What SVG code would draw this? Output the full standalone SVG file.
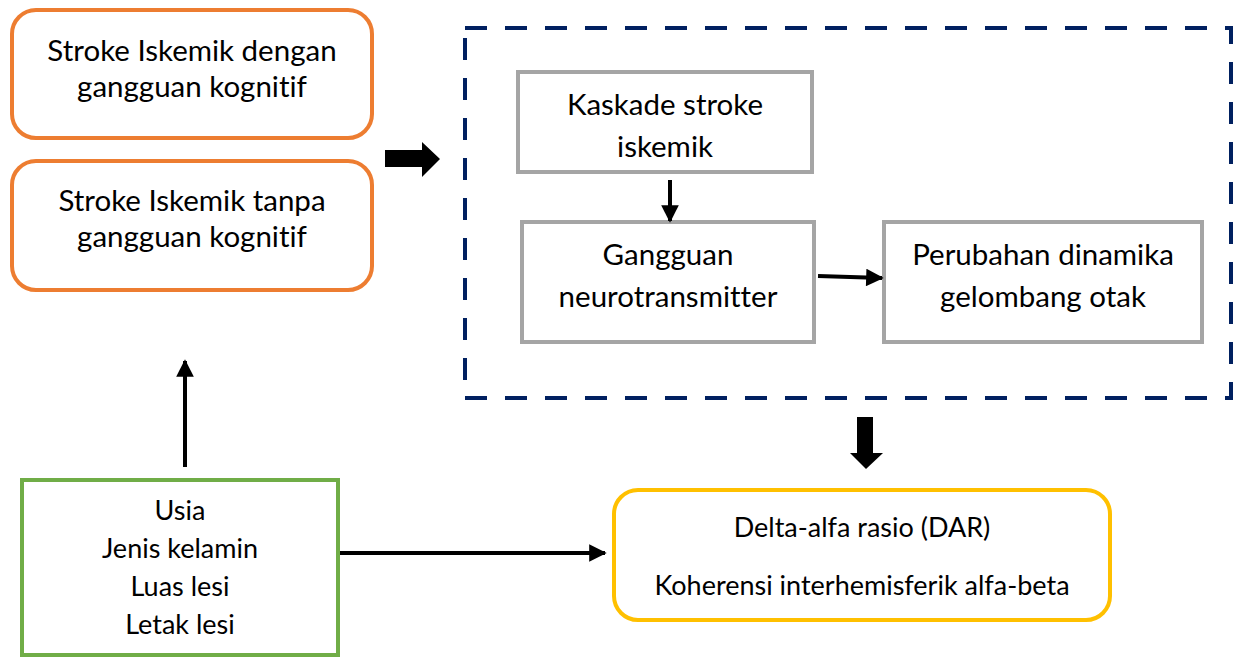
<svg xmlns="http://www.w3.org/2000/svg" width="1235" height="657" viewBox="0 0 1235 657">
<style>
text{font-family:Lato,"Open Sans","Noto Sans",sans-serif;fill:#000;text-anchor:middle;font-variant-ligatures:none;font-feature-settings:"liga" 0,"dlig" 0}
.big{font-size:29.5px}
.sm{font-size:27px}
.org{fill:#fff;stroke:#ED7D31;stroke-width:4}
.gry{fill:#fff;stroke:#A5A5A5;stroke-width:4}
.ln{stroke:#000;stroke-width:4;fill:none}
</style>
<defs>
<marker id="ah" viewBox="0 0 10 10" refX="9" refY="5" markerWidth="5" markerHeight="4.4" orient="auto" markerUnits="strokeWidth"><path d="M0,0 L10,5 L0,10 Z" fill="#000"/></marker>
</defs>
<rect width="1235" height="657" fill="#fff"/>
<g id="dashed-group"><rect x="465" y="28" width="766" height="370" fill="none" stroke="#002060" stroke-width="4" stroke-dasharray="22 18"/></g>
<g id="n-dengan"><rect class="org" x="12" y="10" width="360" height="128" rx="24"/><text class="big" x="192" y="61">Stroke Iskemik dengan</text><text class="big" x="192" y="97">gangguan kognitif</text></g>
<g id="n-tanpa"><rect class="org" x="12" y="161" width="360" height="129" rx="24"/><text class="big" x="192" y="211">Stroke Iskemik tanpa</text><text class="big" x="192" y="247">gangguan kognitif</text></g>
<g id="n-kaskade"><rect class="gry" x="518" y="72" width="294" height="100"/><text class="big" x="665" y="115">Kaskade stroke</text><text class="big" x="665" y="157">iskemik</text></g>
<g id="n-gangguan"><rect class="gry" x="522" y="222" width="292" height="120"/><text class="big" x="668" y="265">Gangguan</text><text class="big" x="668" y="307">neurotransmitter</text></g>
<g id="n-perubahan"><rect class="gry" x="884" y="222" width="318" height="120"/><text class="big" x="1043" y="265">Perubahan dinamika</text><text class="big" x="1043" y="307">gelombang otak</text></g>
<g id="n-faktor"><rect x="22" y="480" width="316" height="175" fill="#fff" stroke="#70AD47" stroke-width="4"/><text class="sm" x="180" y="520">Usia</text><text class="sm" x="180" y="558">Jenis kelamin</text><text class="sm" x="180" y="596">Luas lesi</text><text class="sm" x="180" y="634">Letak lesi</text></g>
<g id="n-eeg"><rect x="614" y="490" width="496" height="130" rx="24" fill="#fff" stroke="#FFC000" stroke-width="4"/><text class="sm" x="862" y="537">Delta-alfa rasio (DAR)</text><text class="sm" x="862" y="595">Koherensi interhemisferik alfa-beta</text></g>
<g id="connectors">
<path d="M385,150 H422 V142 L440,159 L422,177 V167 H385 Z" fill="#000"/>
<path d="M857,417 H873 V453 H883 L866,469 L850,453 H857 Z" fill="#000"/>
<line class="ln" x1="670" y1="180" x2="670" y2="221" stroke-width="3" marker-end="url(#ah)"/>
<line class="ln" x1="818" y1="276" x2="882" y2="278" stroke-width="3" marker-end="url(#ah)"/>
<line class="ln" x1="185" y1="467" x2="185" y2="361" marker-end="url(#ah)"/>
<line class="ln" x1="340" y1="553" x2="605" y2="553" marker-end="url(#ah)"/>
</g>
</svg>
